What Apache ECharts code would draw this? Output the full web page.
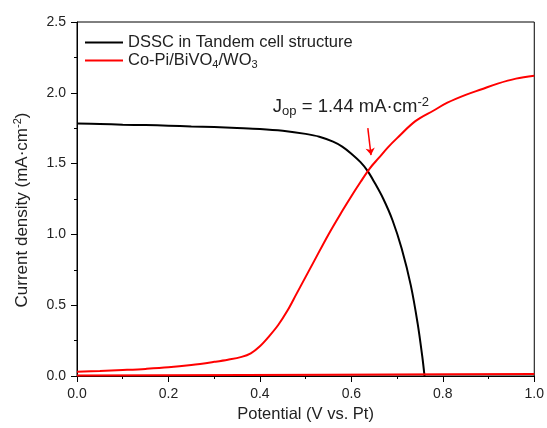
<!DOCTYPE html>
<html>
<head>
<meta charset="utf-8">
<script src="https://cdn.jsdelivr.net/npm/echarts@6/dist/echarts.min.js"></script>
<style>
  html, body { margin: 0; padding: 0; background: #fff; }
  #chart { width: 547px; height: 428px; }
</style>
</head>
<body>
<div id="chart"></div>
<script>
// DSSC J-V curve
var dsscX = [0, 0.05, 0.1, 0.15, 0.2, 0.25, 0.3, 0.35, 0.4, 0.45, 0.5, 0.53, 0.56, 0.58, 0.6, 0.62, 0.635, 0.65, 0.67, 0.69, 0.71, 0.73, 0.745, 0.755, 0.76];
var dsscY = [1.784, 1.78, 1.775, 1.772, 1.768, 1.762, 1.758, 1.752, 1.745, 1.732, 1.71, 1.69, 1.655, 1.62, 1.57, 1.51, 1.45, 1.37, 1.25, 1.10, 0.90, 0.64, 0.37, 0.14, 0.0];
// photoanode under light
var anodeX = [0, 0.05, 0.1, 0.15, 0.2, 0.25, 0.3, 0.33, 0.36, 0.38, 0.4, 0.42, 0.44, 0.46, 0.48, 0.5, 0.52, 0.55, 0.58, 0.6, 0.62, 0.64, 0.66, 0.68, 0.7, 0.74, 0.78, 0.81, 0.85, 0.885, 0.92, 0.96, 1.0];
var anodeY = [0.03, 0.035, 0.042, 0.05, 0.061, 0.078, 0.1, 0.115, 0.135, 0.16, 0.21, 0.28, 0.36, 0.46, 0.58, 0.70, 0.82, 1.0, 1.165, 1.27, 1.37, 1.465, 1.54, 1.615, 1.68, 1.80, 1.875, 1.93, 1.985, 2.025, 2.065, 2.10, 2.12];
// photoanode dark current
var darkX = [0, 0.55, 0.82, 1.0];
var darkY = [0.004, 0.008, 0.012, 0.014];

var jop = [0.636, 1.44];
var arrowFrom = [0.636, 1.75];
var arrowTo = [0.643, 1.56];
var jopLabelAt = [0.599, 1.90];

function pairs(xs, ys) {
    return xs.map(function (x, i) { return [x, ys[i]]; });
}

var myChart = echarts.init(document.getElementById("chart"));
var font = "Liberation Sans, Arial, sans-serif";
var txt = "#222";

var options = {
    animation: false,
    textStyle: { fontFamily: font },
    grid: {
        left: 77,
        right: 11,
        top: 22,
        bottom: 52,
        show: true,
        borderColor: "#000",
        borderWidth: 1,
    },
    legend: {
        orient: "vertical",
        left: 80,
        top: 29,
        itemGap: 1,
        itemWidth: 38,
        itemHeight: 2,
        icon: "rect",
        data: ["DSSC in Tandem cell structure", "Co-Pi/BiVO4/WO3"],
        formatter: function (name) {
            if (name === "Co-Pi/BiVO4/WO3") {
                return "{a|Co-Pi/BiVO}{s|4}{a|/WO}{s|3}";
            }
            return "{a|" + name + "}";
        },
        textStyle: {
            color: txt,
            fontFamily: font,
            rich: {
                a: { fontSize: 16.5, lineHeight: 20, color: txt, fontFamily: font },
                s: { fontSize: 11, lineHeight: 12, color: txt, fontFamily: font, verticalAlign: "bottom" },
            },
        },
    },
    xAxis: {
        type: "value",
        min: 0,
        max: 1,
        interval: 0.2,
        name: "Potential (V vs. Pt)",
        nameLocation: "middle",
        nameGap: 30,
        nameTextStyle: { fontSize: 16.5, color: txt, fontFamily: font },
        axisLine: { lineStyle: { color: "#000", width: 1 } },
        axisTick: { length: 6, lineStyle: { color: "#000" } },
        minorTick: { show: true, splitNumber: 2, length: 3, lineStyle: { color: "#000" } },
        axisLabel: {
            fontSize: 14,
            color: txt,
            margin: 11,
            formatter: function (v) { return v.toFixed(1); },
        },
        splitLine: { show: false },
    },
    yAxis: {
        type: "value",
        min: 0,
        max: 2.5,
        interval: 0.5,
        name: "{a|Current density (mA·cm}{p|-2}{a|)}",
        nameLocation: "middle",
        nameGap: 45,
        nameTextStyle: {
            color: txt,
            fontFamily: font,
            padding: [0, 22, 0, 0],
            rich: {
                a: { fontSize: 17, lineHeight: 20, color: txt, fontFamily: font },
                p: { fontSize: 11, lineHeight: 12, color: txt, fontFamily: font, verticalAlign: "top" },
            },
        },
        axisLine: { show: true, lineStyle: { color: "#000", width: 1 } },
        axisTick: { show: true, length: 6, lineStyle: { color: "#000" } },
        minorTick: { show: true, splitNumber: 2, length: 3, lineStyle: { color: "#000" } },
        axisLabel: {
            fontSize: 14,
            color: txt,
            margin: 11,
            formatter: function (v) { return v.toFixed(1); },
        },
        splitLine: { show: false },
    },
    series: [
        {
            name: "DSSC in Tandem cell structure",
            type: "line",
            data: pairs(dsscX, dsscY),
            color: "#000",
            showSymbol: false,
            smooth: 0.35,
            lineStyle: { color: "#000", width: 2 },
        },
        {
            name: "Co-Pi/BiVO4/WO3",
            type: "line",
            data: pairs(anodeX, anodeY),
            color: "#ff0000",
            showSymbol: false,
            smooth: 0.35,
            lineStyle: { color: "#ff0000", width: 2 },
            markLine: {
                silent: true,
                symbol: ["none", "arrow"],
                symbolSize: 7,
                lineStyle: { color: "#ff0000", width: 1.5, type: "solid" },
                label: { show: false },
                data: [[{ coord: arrowFrom }, { coord: arrowTo }]],
            },
            markPoint: {
                silent: true,
                symbol: "circle",
                symbolSize: 1,
                itemStyle: { color: "rgba(0,0,0,0)" },
                data: [{ coord: jopLabelAt, value: jop[1] }],
                label: {
                    show: true,
                    position: "inside",
                    formatter: function (p) {
                        return "{a|J}{s|op}{a| = " + p.value.toFixed(2) + " mA·cm}{p|-2}";
                    },
                    rich: {
                        a: { fontSize: 18.5, lineHeight: 22, color: txt, fontFamily: font },
                        s: { fontSize: 13, lineHeight: 12, color: txt, fontFamily: font, verticalAlign: "bottom" },
                        p: { fontSize: 13, lineHeight: 12, color: txt, fontFamily: font, verticalAlign: "top" },
                    },
                },
            },
        },
        {
            name: "dark",
            type: "line",
            data: pairs(darkX, darkY),
            color: "#ff0000",
            showSymbol: false,
            lineStyle: { color: "#ff0000", width: 2 },
        },
    ],
};
myChart.setOption(options);
</script>
</body>
</html>
